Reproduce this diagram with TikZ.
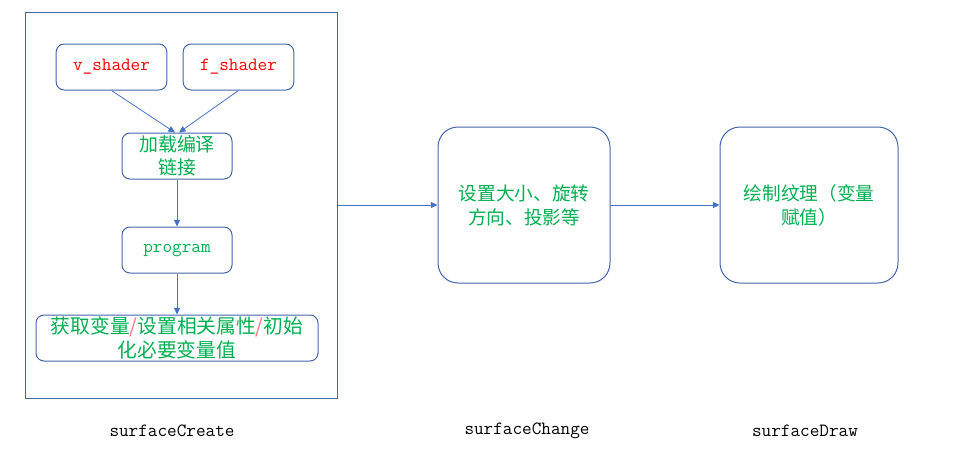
\documentclass[tikz,border=0pt]{standalone}
\usepackage{fontspec}
\newfontfamily\cjk{Noto Sans CJK SC}
\usetikzlibrary{arrows.meta}

\definecolor{boxblue}{RGB}{68,100,170}
\definecolor{linkblue}{RGB}{68,114,196}
\definecolor{txtgreen}{RGB}{0,176,80}
\definecolor{txtred}{RGB}{255,0,0}
\definecolor{slashpink}{RGB}{255,110,130}

\tikzset{every picture/.style={line width=0.75pt}}
\tikzset{
  smallbox/.style={draw=boxblue, rounded corners=6pt, inner sep=0pt, align=center,
    minimum width=83pt, minimum height=34.5pt},
  bigbox/.style={draw=boxblue, rounded corners=15pt, inner sep=0pt, align=center,
    minimum width=129pt, minimum height=117pt, text=txtgreen,
    font=\cjk\fontsize{14}{18}\selectfont},
  link/.style={draw=linkblue, line width=0.6pt, -{Triangle[length=5pt,width=4.5pt]}},
  caption/.style={inner sep=0pt, font=\ttfamily\fontsize{14}{16}\selectfont}
}

\begin{document}
\begin{tikzpicture}[x=0.75pt,y=0.75pt,yscale=-1,xscale=1]
    \useasboundingbox (0,0) rectangle (957,451);

    %surfaceCreate frame
    \node [draw=boxblue, inner sep=0pt, minimum width=234pt, minimum height=289.5pt] (create) at (181,205) {};

    %shaders
    \node [smallbox, text=txtred, font=\ttfamily\fontsize{14}{16}\selectfont] (vsh) at (111.5,67) {v\_shader};
    \node [smallbox, text=txtred, font=\ttfamily\fontsize{14}{16}\selectfont] (fsh) at (238.5,67) {f\_shader};

    %compile and link
    \node [smallbox, minimum width=82.5pt, text=txtgreen, font=\cjk\fontsize{14.2}{17.5}\selectfont] (load) at (177,156) {加载编译\\链接};

    %program
    \node [smallbox, minimum width=82.5pt, text=txtgreen, font=\ttfamily\fontsize{14}{16}\selectfont] (prog) at (177,250) {program};

    %variables and attributes
    \node [smallbox, minimum width=211.5pt, text=txtgreen, font=\cjk\fontsize{14.8}{18}\selectfont] (vars) at (177,338)
      {获取变量{\color{slashpink}/}设置相关属性{\color{slashpink}/}初始\\化必要变量值};

    %surfaceChange, surfaceDraw
    \node [bigbox] (change) at (524,205) {设置大小、旋转\\方向、投影等};
    \node [bigbox, minimum width=133.5pt] (draw) at (809,205) {绘制纹理（变量\\赋值）};

    %connectors
    \draw [link] (vsh.south) -- ([xshift=-1.5pt]load.north);
    \draw [link] (fsh.south) -- ([xshift=1.5pt]load.north);
    \draw [link] (load) -- (prog);
    \draw [link] (prog) -- (vars);
    \draw [link] (create.east) -- (change.west);
    \draw [link] (change.east) -- (draw.west);

    %captions
    \node [caption] (capcreate) at (172,431) {surfaceCreate};
    \node [caption] (capchange) at (527,431) {surfaceChange};
    \node [caption] (capdraw) at (805,431) {surfaceDraw};

\end{tikzpicture}
\end{document}
